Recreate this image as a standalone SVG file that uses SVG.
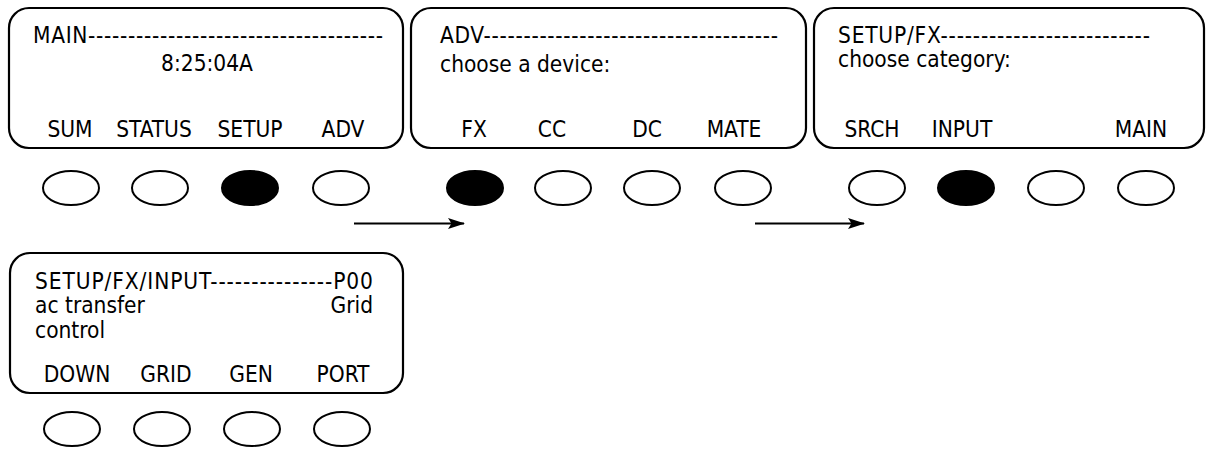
<svg xmlns="http://www.w3.org/2000/svg" width="1207" height="449" viewBox="0 0 1207 449">
<style>
.panel{fill:#fff;stroke:#000;stroke-width:2.2}
.btn{fill:#fff;stroke:#000;stroke-width:2}
.on{fill:#000;stroke:#000;stroke-width:2}
text{font-family:"DejaVu Sans Condensed","DejaVu Sans",sans-serif;font-size:22.5px;fill:#000}
.c{text-anchor:middle}
.e{text-anchor:end}
.conn{stroke:#000;stroke-width:2;fill:none}
</style>
<defs>
<marker id="ah" viewBox="0 0 17 12" refX="16" refY="6" markerWidth="17" markerHeight="12" markerUnits="userSpaceOnUse" orient="auto">
<path d="M0,0.5 L17,6 L0,11.5 L3.5,6 z" fill="#000"/>
</marker>
</defs>
<rect width="1207" height="449" fill="#fff"/>
<g id="screen-main">
<rect class="panel" x="9" y="8" width="394" height="140" rx="20"/>
<text x="33" y="43" textLength="350" lengthAdjust="spacing">MAIN-------------------------------------</text>
<text class="c" x="207" y="71">8:25:04A</text>
<text class="c" x="70" y="137">SUM</text>
<text class="c" x="154" y="137">STATUS</text>
<text class="c" x="250" y="137">SETUP</text>
<text class="c" x="343" y="137">ADV</text>
<ellipse class="btn" cx="71" cy="188" rx="28" ry="17"/>
<ellipse class="btn" cx="160" cy="188" rx="28" ry="17"/>
<ellipse class="on" cx="250" cy="188" rx="28" ry="17"/>
<ellipse class="btn" cx="341" cy="188" rx="28" ry="17"/>
</g>
<g id="screen-adv">
<rect class="panel" x="411" y="8" width="395" height="140" rx="20"/>
<text x="440" y="43" textLength="338" lengthAdjust="spacing">ADV-------------------------------------</text>
<text x="440" y="72">choose a device:</text>
<text class="c" x="474" y="137">FX</text>
<text class="c" x="552" y="137">CC</text>
<text class="c" x="647" y="137">DC</text>
<text class="c" x="734" y="137">MATE</text>
<ellipse class="on" cx="475" cy="188" rx="28" ry="17"/>
<ellipse class="btn" cx="563" cy="188" rx="28" ry="17"/>
<ellipse class="btn" cx="652" cy="188" rx="28" ry="17"/>
<ellipse class="btn" cx="743" cy="188" rx="28" ry="17"/>
</g>
<g id="screen-setup-fx">
<rect class="panel" x="814" y="8" width="390" height="140" rx="20"/>
<text x="838" y="43" textLength="312" lengthAdjust="spacing">SETUP/FX--------------------------</text>
<text x="838" y="67">choose category:</text>
<text class="c" x="872" y="137">SRCH</text>
<text class="c" x="962" y="137">INPUT</text>
<text class="c" x="1141" y="137">MAIN</text>
<ellipse class="btn" cx="877" cy="188" rx="28" ry="17"/>
<ellipse class="on" cx="966" cy="188" rx="28" ry="17"/>
<ellipse class="btn" cx="1056" cy="188" rx="28" ry="17"/>
<ellipse class="btn" cx="1146" cy="188" rx="28" ry="17"/>
</g>
<g id="screen-setup-fx-input">
<rect class="panel" x="10" y="253" width="393" height="140" rx="20"/>
<text x="35" y="289" textLength="338" lengthAdjust="spacing">SETUP/FX/INPUT---------------P00</text>
<text x="35" y="313">ac transfer</text>
<text class="e" x="373" y="313">Grid</text>
<text x="35" y="338">control</text>
<text class="c" x="77" y="382">DOWN</text>
<text class="c" x="166" y="382">GRID</text>
<text class="c" x="251" y="382">GEN</text>
<text class="c" x="343" y="382">PORT</text>
<ellipse class="btn" cx="72" cy="429" rx="28" ry="17"/>
<ellipse class="btn" cx="162" cy="429" rx="28" ry="17"/>
<ellipse class="btn" cx="252" cy="429" rx="28" ry="17"/>
<ellipse class="btn" cx="342" cy="429" rx="28" ry="17"/>
</g>
<g id="connectors">
<line class="conn" x1="354" y1="223.5" x2="464" y2="223.5" marker-end="url(#ah)"/>
<line class="conn" x1="755" y1="223.5" x2="864" y2="223.5" marker-end="url(#ah)"/>
</g>
</svg>
